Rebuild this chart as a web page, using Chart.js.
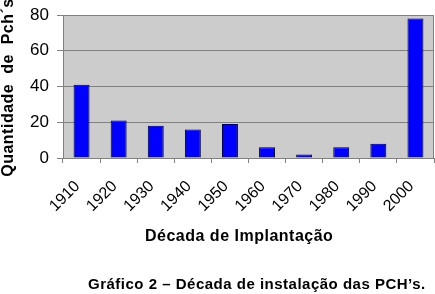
<!DOCTYPE html>
<html>
<head>
<meta charset="utf-8">
<script src="https://cdn.jsdelivr.net/npm/chart.js@4/dist/chart.umd.min.js"></script>
<style>
  html, body { margin: 0; padding: 0; background: #ffffff; }
  #wrap { position: relative; width: 435px; height: 294px; }
</style>
</head>
<body>
<div id="wrap"><canvas id="c" width="435" height="294"></canvas></div>
<script>
const decades = ['1910','1920','1930','1940','1950','1960','1970','1980','1990','2000'];
const pchCount = [41, 21, 18, 16, 19, 6, 2, 6, 8, 78];
const yTicks = [0, 20, 40, 60, 80];
const yTitle = 'Quantidade  de  Pch\u00b4s';
const xTitle = 'D\u00e9cada de Implanta\u00e7\u00e3o';
const caption = 'Gr\u00e1fico 2 \u2013 D\u00e9cada de instala\u00e7\u00e3o das PCH\u2019s.';

const FONT = "'Liberation Sans', Arial, sans-serif";

const plotBg = {
  id: 'plotBg',
  beforeDraw(chart) {
    const {ctx, chartArea: a} = chart;
    ctx.save();
    ctx.fillStyle = '#cccccc';
    ctx.fillRect(a.left, a.top, a.right - a.left, a.bottom - a.top);
    ctx.restore();
  },
  afterDraw(chart) {
    const {ctx, chartArea: a} = chart;
    ctx.save();
    ctx.strokeStyle = '#808080';
    ctx.lineWidth = 1;
    ctx.strokeRect(Math.round(a.left) + 0.5, Math.round(a.top) + 0.5, Math.round(a.right - a.left) - 1, Math.round(a.bottom - a.top));
    ctx.fillStyle = '#000000';
    ctx.textBaseline = 'middle';
    ctx.textAlign = 'left';
    ctx.font = 'bold 16px ' + FONT;
    ctx.letterSpacing = '0.5px';
    ctx.fillText(xTitle, 145, 237);
    ctx.font = 'bold 15px ' + FONT;
    ctx.letterSpacing = '0.5px';
    ctx.fillText(caption, 88, 285);
    // y axis title
    ctx.save();
    ctx.translate(9, (a.top + a.bottom) / 2 + 1);
    ctx.rotate(-Math.PI / 2);
    ctx.textAlign = 'center';
    ctx.font = 'bold 16px ' + FONT;
    ctx.letterSpacing = '0.5px';
    ctx.fillText(yTitle, 0, 0);
    ctx.restore();
    ctx.restore();
  }
};

new Chart(document.getElementById('c'), {
  type: 'bar',
  data: {
    labels: decades,
    datasets: [{
      data: pchCount,
      backgroundColor: '#0000ff',
      borderColor: '#000000',
      borderWidth: 1,
      barPercentage: 0.43,
      categoryPercentage: 1.0
    }]
  },
  options: {
    responsive: false,
    animation: false,
    devicePixelRatio: 1,
    layout: { padding: { left: 0, right: 1, top: 15, bottom: 0 } },
    plugins: { legend: { display: false }, tooltip: { enabled: false } },
    scales: {
      x: {
        grid: { display: true, drawOnChartArea: false, drawTicks: true, tickLength: 5, color: '#808080', offset: true },
        border: { display: true, color: '#808080' },
        ticks: {
          color: '#000000',
          font: { family: FONT, size: 16 },
          maxRotation: 45, minRotation: 45,
          padding: 14,
          labelOffset: -4
        },
        afterFit(scale) {
          scale.height = 136;
          scale.paddingLeft = 0;
          scale.paddingRight = 0;
        }
      },
      y: {
        min: 0, max: 80,
        afterBuildTicks(scale) { scale.ticks = yTicks.map(v => ({ value: v })); },
        grid: { color: '#808080', tickLength: 6, drawTicks: true },
        border: { display: true, color: '#808080' },
        ticks: {
          color: '#000000',
          font: { family: FONT, size: 17 },
          padding: 8
        },
        afterFit(scale) {
          scale.width = 63;
          scale.paddingTop = 0;
          scale.paddingBottom = 0;
        }
      }
    }
  },
  plugins: [plotBg]
});
</script>
</body>
</html>
